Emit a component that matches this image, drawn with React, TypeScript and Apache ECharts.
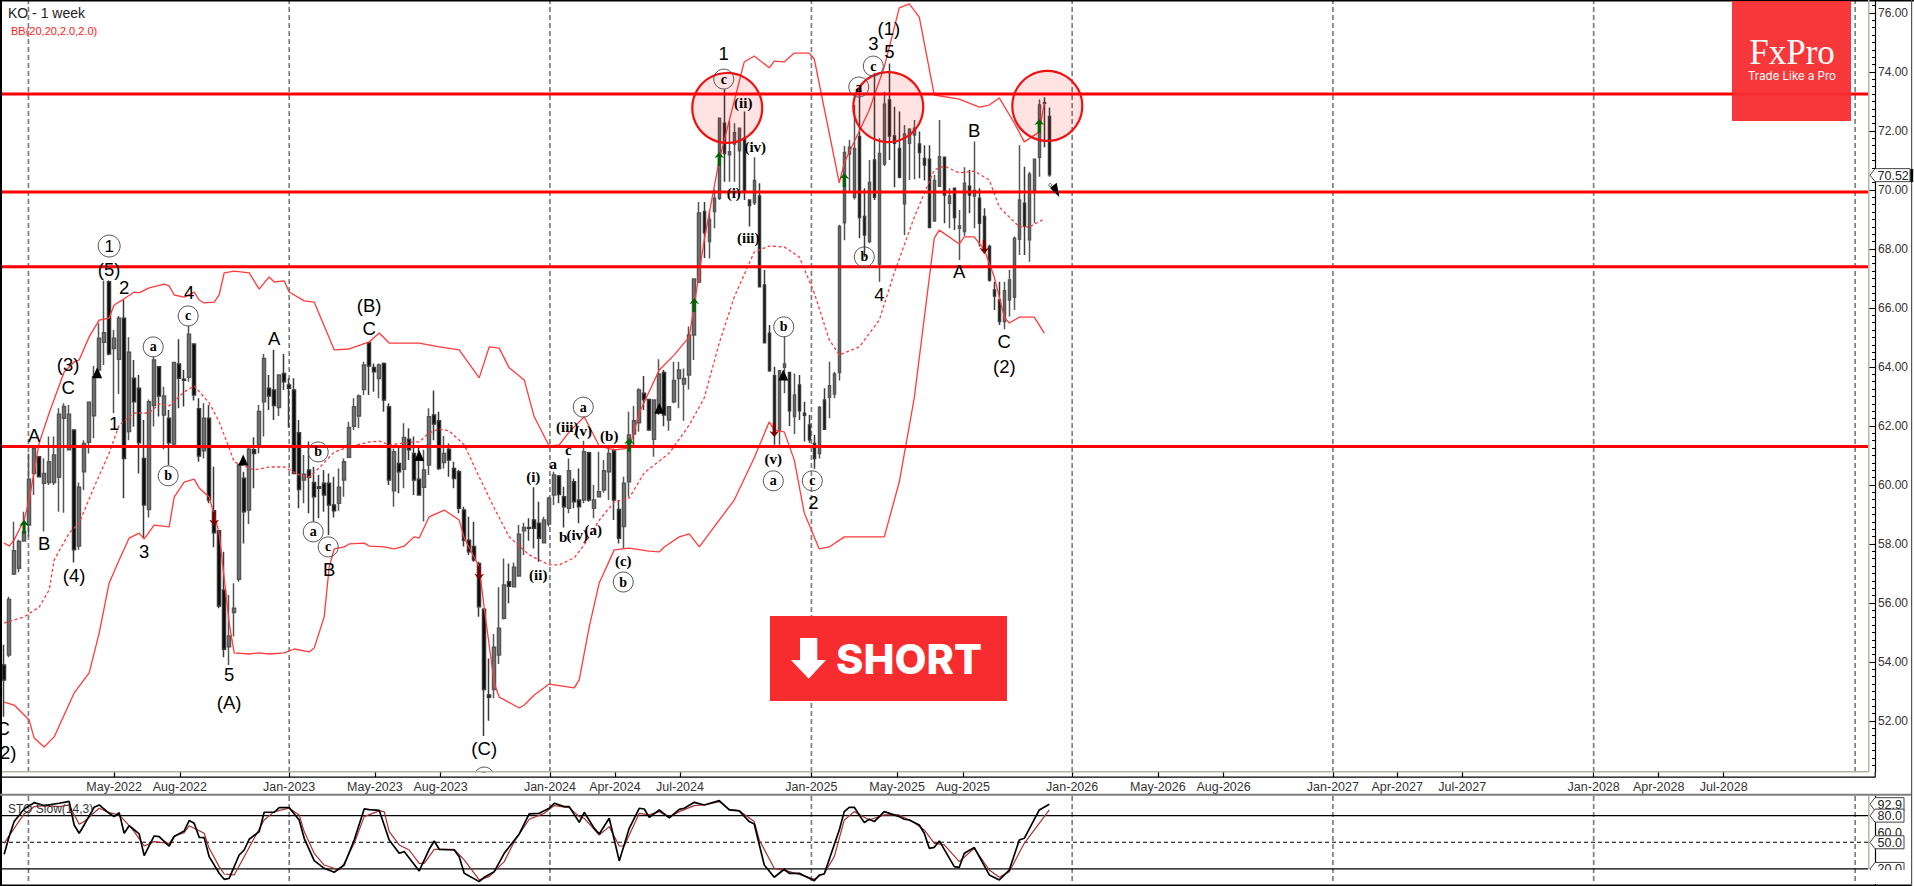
import React, { useEffect, useRef } from "react";
import * as echarts from "echarts";

// Weekly OHLC, rows are [open, close, low, high], first bar is the week of 28 Nov 2021
const candles: number[][] = [
[53.90,53.39,52.14,54.58],[54.24,56.12,54.16,56.21],[56.98,57.77,56.95,58.75],[57.18,58.08,57.04,58.14],[58.10,58.42,58.08,59.09],
[58.64,60.19,58.25,61.07],[60.39,61.24,59.66,61.30],[60.96,60.28,60.26,60.98],[60.06,60.39,58.42,60.90],[60.08,60.79,60.00,61.64],
[60.08,61.02,60.00,61.64],[60.26,62.40,59.09,62.60],[62.26,62.66,59.06,62.77],[61.19,62.40,61.19,62.71],[61.86,57.80,57.37,61.86],
[57.93,59.92,57.80,60.08],[60.45,61.41,59.83,61.52],[61.45,62.80,61.07,62.82],[62.35,63.67,61.58,64.03],[63.90,64.97,63.78,65.48],
[64.84,65.16,64.07,66.93],[66.89,64.44,64.40,66.93],[64.63,64.97,62.43,65.25],[64.26,65.65,63.08,65.73],[65.65,60.90,59.55,66.27],
[61.81,64.50,61.52,65.01],[63.62,62.82,61.97,64.24],[63.28,61.43,60.39,63.73],[60.90,59.32,58.19,62.20],[59.17,62.82,58.90,62.90],
[62.69,64.24,61.98,64.35],[64.01,63.02,62.32,64.03],[62.37,63.02,61.21,63.33],[62.26,61.43,60.68,62.54],[61.39,64.15,61.30,64.18],
[64.10,63.62,62.60,64.94],[63.58,63.55,62.66,63.90],[63.65,65.11,63.50,65.39],[64.78,63.05,62.86,64.80],[62.58,60.98,60.79,62.94],
[61.16,62.26,60.90,62.77],[62.26,59.49,59.38,62.71],[59.13,58.38,57.89,60.62],[58.45,55.90,55.82,58.47],[56.44,54.43,54.16,57.74],
[54.52,54.88,53.90,56.27],[55.68,55.82,54.86,56.67],[56.80,60.68,56.72,60.73],[60.23,59.09,58.02,60.45],[59.15,61.21,58.68,61.30],
[61.19,61.07,59.89,61.62],[61.36,62.49,61.07,62.71],[62.82,64.29,61.64,64.44],[63.28,63.02,62.54,63.73],[63.22,62.69,62.20,64.58],
[62.63,63.73,62.34,63.73],[63.78,63.50,63.22,64.44],[63.39,63.28,61.95,63.62],[63.22,60.39,60.37,63.62],[61.77,59.85,59.21,62.20],
[60.17,60.36,59.38,61.02],[60.51,60.26,59.04,61.47],[60.08,59.60,58.75,60.62],[59.94,59.89,58.87,60.34],[60.06,59.66,59.09,60.51],
[60.06,59.32,58.30,60.39],[59.32,59.13,58.90,60.28],[59.38,59.92,59.13,60.56],[60.17,60.79,59.60,60.90],[60.94,61.95,60.94,62.14],
[61.99,62.65,61.86,62.94],[62.34,63.02,61.92,63.07],[63.24,64.07,63.05,64.18],[64.82,64.03,63.05,64.82],[63.98,63.84,63.16,64.12],
[63.61,64.07,62.94,64.12],[64.12,62.88,62.48,64.15],[62.65,60.17,60.00,62.77],[59.80,61.13,59.26,61.24],[60.73,60.45,59.72,61.30],
[60.53,61.61,59.89,62.09],[61.55,61.19,60.85,61.92],[61.07,60.17,59.66,61.64],[60.19,59.66,59.66,61.30],[59.92,60.51,58.76,61.19],
[60.68,62.31,60.34,62.60],[62.37,62.07,61.52,63.20],[62.18,60.56,60.51,62.48],[60.76,61.07,60.56,61.66],[61.21,60.85,60.28,61.41],
[60.56,60.22,59.89,60.79],[60.45,59.21,59.04,60.51],[59.15,58.13,57.91,59.26],[58.13,57.74,57.63,58.92],[57.91,57.46,57.40,58.75],
[57.34,55.87,55.53,57.40],[55.79,53.07,51.49,55.82],[52.88,52.80,52.01,54.12],[53.07,54.50,52.77,54.95],[54.24,55.14,53.93,56.53],
[55.48,56.61,55.44,57.51],[56.72,56.57,55.99,57.34],[56.55,57.21,56.53,57.37],[56.91,58.33,56.89,58.64],[58.45,58.56,57.63,58.72],
[58.56,58.53,58.11,58.87],[58.81,58.53,57.85,59.92],[58.70,58.19,57.40,59.43],[58.04,58.81,58.02,58.92],[58.68,59.55,58.59,59.60],
[59.66,60.34,59.32,60.45],[60.30,59.68,59.38,60.34],[59.60,59.26,58.56,59.94],[59.21,60.48,59.04,60.90],[60.11,59.43,59.21,60.22],
[59.49,59.26,58.70,60.56],[59.49,61.13,59.38,61.50],[61.09,59.49,59.43,61.13],[59.21,59.49,58.87,60.00],[59.60,59.77,59.58,61.13],
[59.83,60.48,59.74,60.85],[60.45,61.07,59.49,61.24],[61.16,59.49,58.81,61.24],[59.17,58.19,58.02,59.49],[58.59,60.06,57.85,60.28],
[60.11,61.69,59.60,62.48],[61.73,62.18,61.30,62.68],[62.11,63.22,61.80,63.28],[63.11,62.90,62.54,63.69],[62.90,61.86,61.86,62.90],
[61.55,62.88,60.96,62.88],[62.48,63.76,62.37,64.26],[63.81,62.37,61.99,63.90],[62.20,62.65,61.84,62.68],[62.82,63.54,62.77,64.18],
[63.61,63.90,62.60,64.18],[63.42,63.61,62.18,63.95],[63.73,65.08,63.24,65.37],[65.08,66.98,64.24,66.98],[66.88,69.22,66.85,69.59],
[69.27,68.55,67.69,69.59],[68.25,69.00,67.68,69.32],[69.27,69.72,68.70,70.02],[69.72,72.43,69.66,72.46],[72.26,71.24,70.28,73.41],
[71.19,71.30,70.28,72.35],[71.56,71.94,70.28,72.26],[71.33,72.09,70.00,72.09],[71.75,69.94,69.66,72.66],[69.66,69.47,68.76,69.68],
[69.57,70.32,69.49,71.11],[69.80,66.72,66.70,70.23],[66.78,64.82,64.80,67.29],[65.14,63.87,63.84,65.42],[63.70,61.81,61.36,64.01],
[61.86,63.87,61.36,63.90],[63.99,64.10,63.11,65.03],[63.81,62.52,62.00,63.81],[62.32,63.05,61.73,63.78],[63.39,62.52,62.20,63.73],
[62.43,62.36,61.47,62.82],[62.03,61.53,61.43,62.37],[61.41,60.90,60.55,61.69],[61.07,62.63,60.90,62.68],[62.88,61.89,61.86,63.28],
[62.97,63.36,62.26,64.18],[63.08,63.76,62.94,63.84],[63.81,68.76,63.54,68.82],[68.89,71.27,68.30,71.49],[71.22,71.45,69.94,71.69],
[69.75,71.41,69.68,72.88],[71.81,69.07,68.36,73.45],[69.10,68.47,67.74,70.06],[68.25,70.25,68.19,71.02],[71.02,69.75,69.66,73.96],
[67.49,71.24,66.89,71.75],[70.88,72.91,70.81,73.33],[73.05,71.83,71.02,74.29],[71.83,71.58,70.09,72.82],[71.41,70.43,70.40,72.66],
[69.53,71.90,68.47,72.20],[71.58,72.06,70.34,72.09],[71.86,72.09,70.36,72.37],[71.56,71.27,70.40,71.98],[71.07,70.85,70.32,71.52],
[71.04,68.73,68.70,71.52],[68.95,70.32,68.93,70.51],[70.13,71.13,70.11,72.37],[71.11,69.83,68.87,71.13],[69.55,69.80,68.70,70.06],
[70.06,69.07,68.64,70.06],[68.70,68.78,67.63,69.32],[68.59,70.23,68.44,70.77],[70.13,69.83,69.21,70.68],[69.80,69.98,68.70,71.64],
[69.72,68.87,68.08,70.06],[69.10,68.02,67.91,69.38],[68.08,66.95,66.89,68.14],[66.61,66.41,65.93,66.89],[66.27,65.54,65.42,66.89],
[65.54,66.58,65.28,66.89],[66.27,66.95,65.71,67.29],[66.36,68.36,65.93,68.42],[68.33,69.66,67.80,71.52],[69.55,68.78,67.80,70.79],
[68.31,70.53,67.57,70.62],[69.98,71.04,68.87,71.07],[71.11,72.88,70.45,73.07],[72.96,72.94,71.45,73.14],[72.49,70.52,70.45,72.80],
];

// Indicator vertices: [week number, value]
const bbUpper: number[][] = [[0,58.03],[1,57.93],[2,58.14],[4,58.81],[5,59.49],[7,61.42],[9,62.44],[12,63.83],[14,64.17],[15,64.24],[17,65.02],[19,65.59],[21,65.66],[22,66.10],[24,66.31],[26,66.54],[27,66.51],[29,66.68],[32,66.81],[33,66.75],[34,66.44],[36,66.37],[38,66.54],[39,66.27],[40,66.17],[42,66.20],[43,66.44],[44,67.19],[46,67.25],[49,67.19],[51,66.64],[52,66.85],[53,67.05],[54,66.88],[56,66.92],[57,66.54],[60,66.24],[62,66.20],[66,64.58],[69,64.61],[73,64.85],[75,65.15],[77,64.81],[80,64.81],[83,64.81],[87,64.68],[91,64.58],[95,63.63],[97,64.68],[99,64.64],[101,63.97],[104,63.56],[106,62.31],[109,61.32],[111,61.36],[113,61.80],[116,62.31],[119,61.32],[122,61.19],[125,61.25],[127,62.44],[131,63.90],[134,64.41],[137,65.02],[138,66.10],[140,68.31],[143,71.02],[148,74.34],[150,74.54],[153,74.14],[154,74.37],[156,74.34],[158,74.64],[161,74.64],[162,74.44],[167,70.24],[168,70.92],[173,72.71],[176,74.17],[179,76.17],[181,76.31],[183,75.86],[186,73.22],[191,73.08],[195,72.81],[197,72.88],[199,73.12],[202,72.27],[204,71.63],[207,71.97],[208,72.95]];
const bbMiddle: number[][] = [[0,55.32],[4,55.53],[7,55.86],[9,56.44],[10,57.46],[13,58.37],[15,58.71],[18,59.93],[21,61.08],[23,62.03],[26,62.44],[29,62.44],[31,62.75],[33,62.68],[36,63.15],[38,63.36],[41,62.78],[43,62.14],[45,61.25],[46,60.78],[50,60.51],[53,60.61],[56,60.61],[59,60.34],[61,60.27],[63,60.58],[66,61.12],[69,61.29],[73,61.46],[75,61.49],[77,61.36],[82,61.46],[83,61.46],[85,61.76],[87,61.90],[89,61.83],[92,61.36],[95,60.27],[98,59.22],[101,58.24],[105,57.63],[109,57.29],[111,57.29],[114,57.53],[116,57.97],[119,58.81],[122,59.42],[125,59.56],[128,60.41],[133,61.08],[137,62.03],[140,62.95],[143,64.81],[146,66.37],[150,67.90],[153,68.10],[156,68.07],[159,67.73],[162,66.51],[165,64.92],[167,64.41],[171,64.68],[175,65.59],[178,67.19],[182,69.08],[186,70.68],[188,70.81],[191,70.58],[194,70.64],[197,70.34],[199,69.42],[203,68.75],[205,68.75],[208,69.02]];
const bbLower: number[][] = [[0,52.64],[2,52.54],[5,52.03],[6,51.42],[8,51.12],[10,51.46],[14,52.95],[17,53.63],[19,54.98],[21,56.68],[23,57.46],[25,58.20],[27,58.37],[28,58.17],[30,58.64],[33,58.58],[34,59.59],[36,60.10],[38,60.20],[39,59.90],[41,59.59],[43,58.37],[45,55.32],[46,54.31],[49,54.27],[51,54.31],[53,54.27],[56,54.31],[58,54.44],[61,54.34],[62,54.47],[64,55.53],[65,57.22],[66,57.83],[68,57.90],[69,58.00],[72,58.03],[73,57.93],[76,57.90],[78,57.83],[80,57.93],[82,58.24],[83,58.20],[85,58.92],[88,59.15],[91,58.81],[92,58.20],[95,57.22],[96,55.83],[98,53.29],[99,52.81],[103,52.44],[104,52.54],[106,52.88],[109,53.25],[114,53.12],[115,53.39],[117,55.19],[119,56.68],[122,57.80],[125,57.86],[129,57.76],[131,57.73],[132,57.90],[135,58.24],[137,58.34],[139,57.90],[146,59.49],[150,60.92],[153,62.14],[154,61.86],[156,61.80],[158,60.85],[160,59.05],[163,57.83],[165,57.90],[168,58.24],[176,58.24],[179,60.10],[182,62.95],[186,68.37],[187,68.64],[191,68.17],[192,68.41],[194,68.41],[196,67.97],[198,67.05],[200,65.69],[201,65.49],[203,65.69],[206,65.69],[208,65.15]];
const stoMain: number[][] = [[0,36.5],[1,56.4],[2,73.3],[4,87.5],[6,94.6],[8,91.3],[11,93.9],[13,96.1],[14,69.5],[15,60.1],[16,69.5],[18,89.4],[19,92],[21,82.6],[22,78.9],[23,83.4],[24,60.1],[25,68.7],[27,59.4],[28,35],[30,57.1],[31,56.4],[33,45.8],[34,56.4],[36,62.7],[37,74.4],[38,71.4],[39,55.6],[40,55.2],[41,33.8],[43,15.1],[44,8.3],[45,9.4],[47,35.7],[48,41.3],[49,53.4],[51,62],[52,83.8],[54,83.8],[55,89],[57,89],[59,75.1],[60,54.5],[62,29.3],[64,20.7],[66,16.2],[68,24.4],[70,52.6],[72,87.5],[73,86.8],[75,86],[77,52.6],[79,37.6],[80,39.5],[83,17.7],[85,42.1],[86,51.5],[87,42.1],[90,41.3],[91,33.8],[92,15.1],[95,5.7],[96,10.6],[98,16.9],[100,37.6],[103,59.4],[105,81.9],[107,82.6],[109,88.3],[110,93.9],[112,90.1],[113,90.1],[115,72.5],[116,83.8],[118,65.7],[119,59.4],[121,77],[123,29],[125,65.7],[127,88.3],[128,87.5],[129,78.1],[131,86.4],[133,77.4],[135,87.1],[136,88.3],[138,95],[140,92],[143,96.9],[145,86.4],[147,85.3],[149,73.3],[150,70.6],[152,24.4],[154,10.6],[156,19.6],[157,15.1],[159,15.1],[162,6.8],[163,13.2],[164,14.3],[167,63.9],[168,84.5],[169,89.4],[170,89.4],[172,72.1],[173,75.9],[174,73.3],[176,84.5],[179,78.9],[180,75.9],[181,75.1],[183,69.5],[184,60.1],[185,43.2],[186,44.3],[187,51.5],[190,22.6],[191,21.8],[192,37.6],[194,44],[197,13.2],[199,7.6],[201,18.8],[203,52.6],[204,54.5],[207,86.4],[209,92.8]];
const stoSignal: number[][] = [[0,48.8],[2,65.7],[4,81.9],[6,90.1],[8,91.3],[11,90.1],[13,92],[15,70.2],[16,73.3],[19,88.3],[21,83.4],[23,80.8],[25,68.7],[26,62],[28,45.8],[30,50.7],[33,48.8],[34,57.1],[36,60.9],[37,68.7],[40,60.1],[41,43.2],[43,22.6],[44,14.3],[46,13.2],[48,33.8],[50,54.5],[52,75.1],[54,84.5],[57,88.3],[59,80.8],[60,62],[62,37.6],[64,24.4],[67,18.8],[68,26.3],[70,48.8],[72,78.9],[75,85.3],[76,84.5],[77,62],[79,47],[81,41.3],[83,26.3],[84,26.3],[86,42.1],[90,42.1],[92,30.1],[95,7.6],[97,11.3],[100,28.2],[102,50.7],[105,75.9],[108,82.6],[110,91.3],[113,89],[115,78.9],[116,77],[118,64.6],[119,58.2],[121,67.6],[123,45.8],[124,45.8],[127,82.6],[129,80.8],[131,84.5],[133,78.1],[135,84.5],[138,91.3],[140,92],[143,95.8],[145,87.1],[147,85.6],[150,73.3],[151,52.6],[154,20.7],[157,16.9],[159,13.9],[162,8.3],[164,15.1],[166,33.8],[168,75.1],[170,84.5],[173,75.1],[176,80.8],[179,80.8],[182,72.1],[184,63.9],[186,48.8],[188,47],[191,28.2],[194,43.2],[197,18.8],[199,10.6],[201,16.9],[204,48.8],[209,86.4]];

const priceLevels = [73.25, 69.93, 67.4, 61.3];
const priceTicks = [52, 54, 56, 58, 60, 62, 64, 66, 68, 70, 72, 74, 76];
const lastPrice = 70.52;
const stoLevels = [80, 20];
const stoMid = 50;
const stoTags = ["60.0", "92.9", "80.0", "50.0", "20.0"];
const monthTicks = ["May-2022","Aug-2022","Jan-2023","May-2023","Aug-2023","Jan-2024","Apr-2024","Jul-2024","Jan-2025","May-2025","Aug-2025","Jan-2026","May-2026","Aug-2026","Jan-2027","Apr-2027","Jul-2027","Jan-2028","Apr-2028","Jul-2028"];
const yearLines = [2022, 2023, 2024, 2025, 2026, 2027, 2028, 2029];

// Wave counts: [text, week number, price]
const waveLabels: [string, number, number][] = [["C",-0.2,51.76],["(2)",0.2,50.92],["(3)",12.8,64.07],["C",12.8,63.29],["A",6,61.69],["B",8,58.03],["(4)",14,56.92],["(5)",21,67.32],["2",24,66.68],["1",22,62.10],["3",28,57.73],["4",37,66.51],["A",54,64.98],["5",45,53.56],["(A)",45,52.64],["B",65,57.12],["(B)",73,66.07],["C",73,65.29],["(C)",96,51.05],["1",143.9,74.61],["2",161.8,59.39],["3",173.8,74.98],["(1)",176.9,75.49],["5",177,74.68],["4",175,66.47],["A",191,67.22],["B",194,72.0],["C",200,64.85],["(2)",200,64.0]];
const circledLabels: [string, number, number][] = [["c",36.8,65.73],["a",29.8,64.68],["b",32.8,60.31],["b",62.8,61.12],["a",61.8,58.41],["c",64.8,57.90],["2",96,50.1],["a",115.8,62.64],["b",123.8,56.71],["c",143.9,73.76],["b",155.9,65.36],["a",153.8,60.14],["c",161.6,60.14],["c",173.8,74.2],["a",170.9,73.49],["b",172,67.73]];
const majorCircled: [string, number, number][] = [["1",21,68.10]];
const minorLabels: [string, number, number][] = [["(i)",105.8,60.27],["(ii)",106.8,56.95],["a",109.8,60.71],["c",112.8,61.19],["(iii)",112.6,61.97],["(v)",115.8,61.83],["(b)",121,61.66],["b",111.8,58.24],["(iv)",114.6,58.31],["(a)",117.8,58.47],["(c)",123.8,57.42],["(ii)",147.8,72.95],["(iv)",150.2,71.46],["(i)",145.9,69.90],["(iii)",148.8,68.37],["(v)",153.8,60.88]];
const zoneCircles: number[][] = [[144.6,72.78],[176.8,72.81],[208.6,72.85]];
const upArrows: number[][] = [[4,58.58],[125,61.36],[138,66.1],[143,71.05],[168,70.34],[207,72.17]];
const downArrows: number[][] = [[42,58.85],[95,57.02],[154,61.86],[196,68.07]];
const blackTriangles: number[][] = [[18.6,63.8],[47.8,60.85],[83,61.0],[131,62.6],[155.8,63.73]];
const projectionTip = [211, 69.76];

const DAY = 86400000;
const firstWeek = Date.UTC(2021, 10, 28);
const weekDate = (w: number) => firstWeek + w * 7 * DAY;
const axisStart = Date.UTC(2021, 10, 25);
const axisEnd = Date.UTC(2029, 0, 19);
const MONTHS = ["Jan","Feb","Mar","Apr","May","Jun","Jul","Aug","Sep","Oct","Nov","Dec"];
const monthValue = (s: string) => { const [m, y] = s.split("-"); return Date.UTC(+y, MONTHS.indexOf(m), 1); };
const tickValues = monthTicks.map(monthValue);
const tickText = new Map<number, string>(monthTicks.map((s) => [monthValue(s), s]));

const PRICE_MIN = 50.27, PRICE_MAX = 76.44, STO_MIN = 1.9, STO_MAX = 102.1;
const minorPrice: number[] = [];
for (let v = 50.5; v < 76.4; v += 0.25) minorPrice.push(v);

const SANS = "Liberation Sans, Arial, sans-serif";
const SERIF = "Liberation Serif, Times New Roman, serif";
const RED = "#F72C2E";
const ARROW = "path://M5 0 L10 7 L6.5 5.5 L6.5 16 L3.5 16 L3.5 5.5 L0 7 Z";

const pts = (rows: number[][]) => rows.map(([w, v]) => [weekDate(w), v]);
const textSeries = (rows: [string, number, number][], symbolSize: number, itemStyle: any, label: any) => ({
  type: "scatter", xAxisIndex: 0, yAxisIndex: 0, symbol: "circle", symbolSize, silent: true, z: 8, clip: false,
  itemStyle,
  label: { show: true, position: "inside", formatter: "{b}", color: "#000", ...label },
  data: rows.map(([name, w, v]) => ({ name, value: [weekDate(w), v] })),
});
const seg = (a: number[], b: number[], xi: number, yi: number, lineStyle: any, z = 1) => ({
  type: "line", xAxisIndex: xi, yAxisIndex: yi, data: [a, b], symbol: "none", silent: true, lineStyle, z,
});

const hiddenAxis = { axisLine: { show: false }, axisTick: { show: false }, axisLabel: { show: false }, splitLine: { show: false } };

export default function App() {
  const ref = useRef<HTMLDivElement>(null);
  useEffect(() => {
    document.body.style.margin = "0";
    document.body.style.background = "#fff";
    const chart = echarts.init(ref.current!, undefined, { renderer: "svg" });
    const gridDash = { color: "#808080", width: 1.7, type: [5, 3] };
    const option: any = {
      animation: false,
      backgroundColor: "#fff",
      grid: [
        { left: 2, top: 0, width: 1866, height: 772 },
        { left: 2, top: 796, width: 1866, height: 89 },
      ],
      xAxis: [
        {
          type: "value", gridIndex: 0, min: axisStart, max: axisEnd, position: "bottom", offset: 5, z: 20,
          axisLine: { show: false },
          axisTick: { show: true, inside: true, length: 5, customValues: tickValues, lineStyle: { color: "#000", width: 1.2 } },
          axisLabel: {
            show: true, customValues: tickValues, margin: 3, color: "#333", fontFamily: SANS, fontSize: 12.5,
            hideOverlap: false, formatter: (v: number) => tickText.get(v) ?? "",
          },
          splitLine: { show: false },
        },
        { type: "value", gridIndex: 1, min: axisStart, max: axisEnd, ...hiddenAxis },
      ],
      yAxis: [
        {
          type: "value", gridIndex: 0, min: PRICE_MIN, max: PRICE_MAX, position: "right", offset: 7,
          axisLine: { show: true, lineStyle: { color: "#000", width: 1.2 } },
          axisTick: { show: true, inside: true, length: 3, customValues: minorPrice, lineStyle: { color: "#000" } },
          axisLabel: { show: false }, splitLine: { show: false },
        },
        {
          type: "value", gridIndex: 0, min: PRICE_MIN, max: PRICE_MAX, position: "right", offset: 7,
          axisLine: { show: false },
          axisTick: { show: true, inside: true, length: 6, customValues: priceTicks, lineStyle: { color: "#000" } },
          axisLabel: { show: true, customValues: priceTicks, margin: 3, color: "#333", fontFamily: SANS, fontSize: 12, formatter: (v: number) => v.toFixed(2) },
          splitLine: { show: false },
        },
        {
          type: "value", gridIndex: 1, min: STO_MIN, max: STO_MAX, position: "right", offset: 7,
          axisLine: { show: true, lineStyle: { color: "#000", width: 1.2 } },
          axisTick: { show: false }, axisLabel: { show: false }, splitLine: { show: false },
        },
      ],
      series: [
        ...yearLines.map((y) => seg([Date.UTC(y, 0, 1), PRICE_MIN], [Date.UTC(y, 0, 1), PRICE_MAX], 0, 0, gridDash)),
        ...yearLines.map((y) => seg([Date.UTC(y, 0, 1), STO_MIN + 4.5], [Date.UTC(y, 0, 1), STO_MAX], 1, 2, gridDash)),
        {
          type: "candlestick", xAxisIndex: 0, yAxisIndex: 0, barWidth: 3, silent: true, z: 3,
          itemStyle: { color: "#777777", color0: "#000000", borderColor: "#555555", borderColor0: "#3a3a3a", borderWidth: 1.5 },
          data: candles.map((r, i) => [weekDate(i), ...r]),
        },
        { type: "line", xAxisIndex: 0, yAxisIndex: 0, data: pts(bbUpper), symbol: "none", silent: true, z: 4, lineStyle: { color: "#ff3b3b", width: 1.3 } },
        { type: "line", xAxisIndex: 0, yAxisIndex: 0, data: pts(bbMiddle), symbol: "none", silent: true, z: 4, lineStyle: { color: "#ff3b3b", width: 1.3, type: [3, 2.5] } },
        { type: "line", xAxisIndex: 0, yAxisIndex: 0, data: pts(bbLower), symbol: "none", silent: true, z: 4, lineStyle: { color: "#ff3b3b", width: 1.3 } },
        ...priceLevels.map((v) => seg([axisStart, v], [axisEnd, v], 0, 0, { color: "#ff0000", width: 3 }, 5)),
        {
          type: "scatter", xAxisIndex: 0, yAxisIndex: 0, symbol: "circle", symbolSize: 70, silent: true, z: 6,
          itemStyle: { color: "rgba(255,0,0,0.11)", borderColor: "#f20f0f", borderWidth: 2.2, opacity: 1 },
          data: pts(zoneCircles),
        },
        { type: "scatter", xAxisIndex: 0, yAxisIndex: 0, symbol: ARROW, symbolSize: [10, 14], silent: true, z: 7, itemStyle: { color: "#006400", opacity: 1 }, data: pts(upArrows) },
        { type: "scatter", xAxisIndex: 0, yAxisIndex: 0, symbol: ARROW, symbolRotate: 180, symbolSize: [10, 14], silent: true, z: 7, itemStyle: { color: "#7a0000", opacity: 1 }, data: pts(downArrows) },
        { type: "scatter", xAxisIndex: 0, yAxisIndex: 0, symbol: "triangle", symbolSize: [10, 11], silent: true, z: 7, itemStyle: { color: "#000", opacity: 1 }, data: pts(blackTriangles) },
        textSeries(waveLabels, 1, { color: "transparent", opacity: 1 }, { fontFamily: SANS, fontSize: 18.5 }),
        textSeries(circledLabels, 20, { color: "rgba(255,255,255,0)", borderColor: "#555", borderWidth: 1, opacity: 1 }, { fontFamily: SERIF, fontSize: 14, fontWeight: "bold" }),
        textSeries(majorCircled, 22, { color: "rgba(255,255,255,0)", borderColor: "#555", borderWidth: 1, opacity: 1 }, { fontFamily: SANS, fontSize: 17 }),
        textSeries(minorLabels, 1, { color: "transparent", opacity: 1 }, { fontFamily: SERIF, fontSize: 15, fontWeight: "bold" }),
        { type: "line", xAxisIndex: 1, yAxisIndex: 2, data: pts(stoSignal), symbol: "none", silent: true, z: 3, lineStyle: { color: "#a83232", width: 1.2 } },
        { type: "line", xAxisIndex: 1, yAxisIndex: 2, data: pts(stoMain), symbol: "none", silent: true, z: 4, lineStyle: { color: "#000", width: 1.7 } },
        ...stoLevels.map((v) => seg([axisStart, v], [axisEnd, v], 1, 2, { color: "#000", width: 1.3 }, 2)),
        seg([axisStart, stoMid], [axisEnd, stoMid], 1, 2, { color: "#000", width: 1.1, type: [4, 3] }, 2),
      ],
    };
    chart.setOption(option);

    const Z = 60;
    const yPrice = (v: number) => chart.convertToPixel({ yAxisIndex: 0 }, v) as number;
    const ySto = (v: number) => chart.convertToPixel({ yAxisIndex: 2 }, v) as number;
    const rect = (x: number, y: number, w: number, h: number, fill: string, z = Z, opacity = 1) => ({ type: "rect", z, silent: true, shape: { x, y, width: w, height: h }, style: { fill, opacity } });
    const text = (x: number, y: number, t: string, font: string, fill: string, extra: any = {}, z = Z + 1) => ({ type: "text", z, silent: true, x, y, style: { text: t, font, fill, verticalAlign: "middle", ...extra } });
    const tag = (y: number, t: string, right: number, z: number) => ([
      { type: "polygon", z, silent: true, shape: { points: [[1870, y], [1875, y - 6.5], [right, y - 6.5], [right, y + 6.5], [1875, y + 6.5]] }, style: { fill: "#fff", stroke: "#444", lineWidth: 1 } },
      text(1877.5, y + 0.5, t, `12.5px ${SANS}`, "#222", {}, z + 1),
    ]);
    const tipPx = chart.convertToPixel({ xAxisIndex: 0, yAxisIndex: 0 }, [weekDate(projectionTip[0]), projectionTip[1]]) as number[];
    const graphic: any[] = [
      // masks the wave count that runs under the bottom of the price panel
      rect(465, 772.4, 40, 21.4, "#fff", 9),
      rect(0, 0, 1914, 1.5, "#000"),
      rect(0, 0, 2, 886, "#000"),
      rect(2, 771, 1867, 1.6, "#b4b4a6"),
      rect(1868, 0, 1.6, 772, "#b9b9ac"),
      rect(2, 776.6, 1873, 1.2, "#000"),
      rect(1874.6, 772, 1.2, 5.5, "#000"),
      rect(0, 793.8, 1912, 2, "#7e7e7e"),
      rect(0, 884.6, 1912, 1.4, "#000"),
      rect(1868, 796, 1.6, 73, "#b9b9ac"),
      rect(1911, 0, 1.2, 886, "#555"),
      rect(1910.2, 169, 3, 13, "#000"),
      text(8, 12.5, "KO - 1 week", `14px ${SANS}`, "#222"),
      text(11, 30.5, "BB(20,20,2.0,2.0)", `11px ${SANS}`, "#ff2020"),
      text(8, 809, "STO Slow(14,3)", `12px ${SANS}`, "#333"),
      // brand box
      rect(1732, 1, 119, 120, RED, Z, 0.95),
      text(1792, 52, "FxPro", `35px ${SERIF}`, "#fff", { align: "center" }),
      text(1792, 76, "Trade Like a Pro", `11.5px Inter, ${SANS}`, "#fff", { align: "center" }),
      // short badge
      rect(770, 616, 237, 85, RED),
      { type: "polygon", z: Z + 1, silent: true, shape: { points: [[800, 638], [817.3, 638], [817.3, 660], [826, 660], [808.7, 678.7], [791, 660], [800, 660]] }, style: { fill: "#fff" } },
      text(836, 659, "SHORT", `800 41.5px Inter, ${SANS}`, "#fff"),
      // projection arrow from the last bar
      { type: "polygon", z: Z, silent: true, shape: { points: [[tipPx[0] - 9.3, tipPx[1] - 9], [tipPx[0] - 2.6, tipPx[1] - 14.3], tipPx] }, style: { fill: "#000" } },
      { type: "circle", z: Z, silent: true, shape: { cx: tipPx[0] - 9, cy: tipPx[1] - 12, r: 1.5 }, style: { fill: "#fff", stroke: "#444", lineWidth: 0.8 } },
      // price and oscillator tags
      ...tag(yPrice(lastPrice) + 0.5, lastPrice.toFixed(2), 1910, Z + 2),
    ];
    stoTags.forEach((t, i) => {
      const y = ySto(parseFloat(t));
      if (t === "60.0") graphic.push(text(1877.5, y, t, `12.5px ${SANS}`, "#222", {}, Z + 1));
      else graphic.push(...tag(y, t, 1904, Z + 2 + i * 2));
    });
    graphic.push(rect(1869, 870, 41, 14, "#fff", Z + 20));
    chart.setOption({ graphic });
    return () => chart.dispose();
  }, []);
  return <div ref={ref} style={{ position: "fixed", left: 0, top: 0, width: 1914, height: 886 }} />;
}
